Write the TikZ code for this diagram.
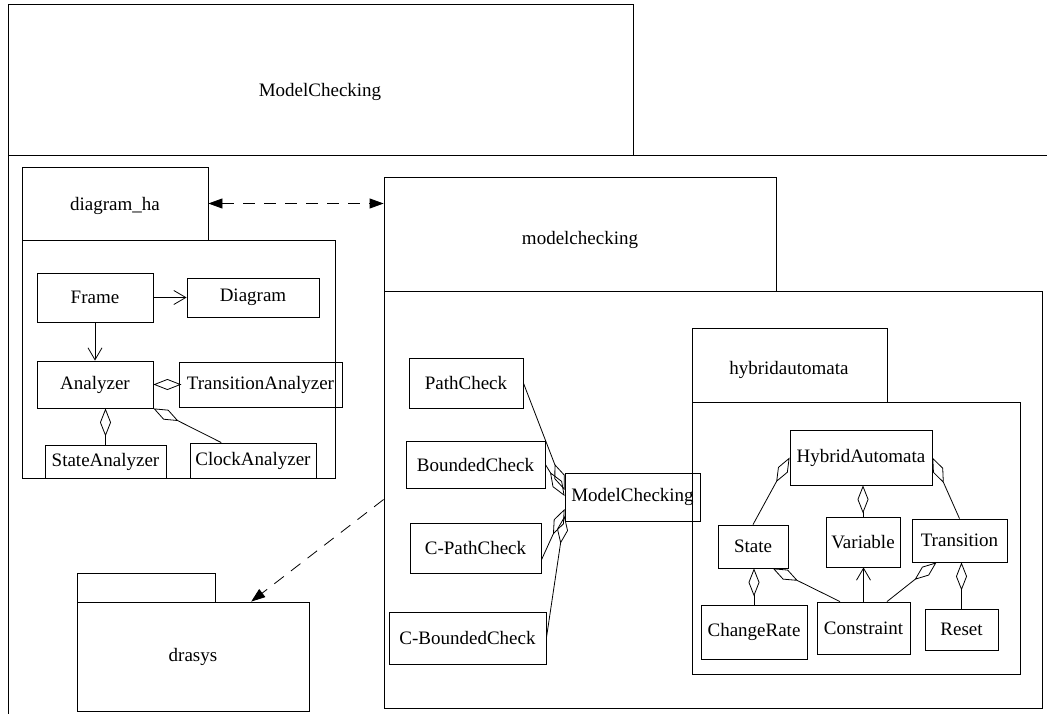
\documentclass[tikz,border=0pt]{standalone}
\usepackage{fontspec}
\setmainfont{Liberation Serif}
\usetikzlibrary{arrows.meta,calc}

\tikzset{
  base/.style={line width=0.8pt, draw=black},
  cls/.style={base, rectangle, inner sep=0pt, font=\fontsize{19}{22}\selectfont},
  pkg/.style={base, rectangle, inner sep=0pt},
  lbl/.style={inner sep=0pt, font=\fontsize{19}{22}\selectfont},
  aggr/.style={base, -{Diamond[open, length=28pt, width=11pt, line width=0.8pt]}},
  assoc/.style={base, -{Straight Barb[length=12pt, width=14pt, line width=0.8pt]}},
  depend/.style={base, dash pattern=on 12pt off 9pt, -{Triangle[length=14pt, width=10pt]}},
  depboth/.style={base, dash pattern=on 12pt off 9pt, {Triangle[length=14pt, width=10pt]}-{Triangle[length=14pt, width=10pt]}},
}

% box given by its corners: name, x1, y1, x2, y2, text
\newcommand\umlbox[7][cls]{%
  \node[#1, minimum width={#5-#3}, minimum height={#6-#4}] (#2) at ({(#3+#5)/2},{(#4+#6)/2}) {#7};}

\begin{document}
\begin{tikzpicture}[x=1pt, y=-1pt]
\useasboundingbox (0,0) rectangle (1047,714);

% outer package ModelChecking
\umlbox[pkg]{outertab}{8}{4}{633}{155}{}
\node[lbl] (outerlabel) at (320,92) {ModelChecking};
\coordinate (outerbl) at (8,714);
\coordinate (outertr) at (1047,155);
\draw[base] (outerbl) |- (outertr);

% package diagram_ha
\umlbox[pkg]{dhtab}{22}{167}{208}{240}{}
\node[lbl] (dhlabel) at (115,206) {diagram\_ha};
\umlbox[pkg]{dhbody}{22}{240}{335}{478}{}

\umlbox{frame}{37}{273}{153}{322}{Frame}
\umlbox{diagram}{187}{278}{319}{317}{Diagram}
\umlbox{analyzer}{37}{361}{153}{408}{Analyzer}
\umlbox{transan}{179}{362}{342}{407}{TransitionAnalyzer}
\umlbox{statean}{45}{445}{166}{478}{StateAnalyzer}
\umlbox{clockan}{190}{443}{316}{478}{ClockAnalyzer}

\draw[assoc] (frame.east) -- (diagram.west);
\draw[assoc] (frame.south) -- (analyzer.north);
\draw[aggr] (transan.west) -- (analyzer.east);
\draw[aggr] (statean.north) -- (statean.north |- analyzer.south);
\draw[aggr] ($(clockan.north west)!0.25!(clockan.north east)$) -- (analyzer.south east);

% package modelchecking
\umlbox[pkg]{mctab}{384}{177}{776}{291}{}
\node[lbl] (mclabel) at (580,240) {modelchecking};
\umlbox[pkg]{mcbody}{384}{291}{1042}{708}{}

\umlbox{pathcheck}{409}{358}{523}{408}{PathCheck}
\umlbox{boundedcheck}{406}{441}{545}{488}{BoundedCheck}
\umlbox{cpathcheck}{410}{523}{541}{573}{C-PathCheck}
\umlbox{cboundedcheck}{389}{612}{546}{664}{C-BoundedCheck}
\umlbox{modelchecking}{565}{473}{700}{521}{ModelChecking}

\draw[aggr] (pathcheck.east) -- ($(modelchecking.west)+(0,-7)$);
\draw[aggr] (boundedcheck.east) -- ($(modelchecking.west)+(0,-1)$);
\draw[aggr] ($(cpathcheck.east)+(0,12)$) -- ($(modelchecking.west)+(0,12)$);
\draw[aggr] (cboundedcheck.east) -- ($(modelchecking.west)+(0,19)$);

% package hybridautomata
\umlbox[pkg]{hatab}{692}{328}{887}{402}{}
\node[lbl] (halabel) at (789,370) {hybridautomata};
\umlbox[pkg]{habody}{692}{402}{1020}{674}{}

\umlbox{hybrid}{790}{430}{932}{485}{HybridAutomata}
\umlbox{state}{718}{525}{788}{568}{State}
\umlbox{variable}{826}{517}{900}{567}{Variable}
\umlbox{transition}{912}{519}{1007}{562}{Transition}
\umlbox{changerate}{701}{605}{807}{659}{ChangeRate}
\umlbox{constraint}{817}{602}{910}{654}{Constraint}
\umlbox{reset}{925}{609}{998}{650}{Reset}

\draw[aggr] (state.north) -- (hybrid.west);
\draw[aggr] (transition.north) -- (hybrid.east);
\draw[aggr] (variable.north) -- (variable.north |- hybrid.south);
\draw[assoc] (constraint.north) -- (constraint.north |- variable.south);
\draw[aggr] ($(constraint.north west)!0.25!(constraint.north east)$) -- ($(state.south west)!0.78!(state.south east)$);
\draw[aggr] ($(constraint.north west)!0.75!(constraint.north east)$) -- ($(transition.south west)!0.26!(transition.south east)$);
\draw[aggr] (changerate.north) -- (changerate.north |- state.south);
\draw[aggr] (reset.north) -- (reset.north |- transition.south);

% package drasys
\umlbox[pkg]{drtab}{77}{573}{215}{602}{}
\umlbox[pkg]{drbody}{77}{602}{309}{711}{}
\node[lbl] (drlabel) at (193,657) {drasys};

% dependencies
\draw[depboth] (dhtab.east) -- (dhtab.east -| mctab.west);
\draw[depend] (mcbody.west) -- ($(drbody.north west)!0.75!(drbody.north east)$);

\end{tikzpicture}
\end{document}
